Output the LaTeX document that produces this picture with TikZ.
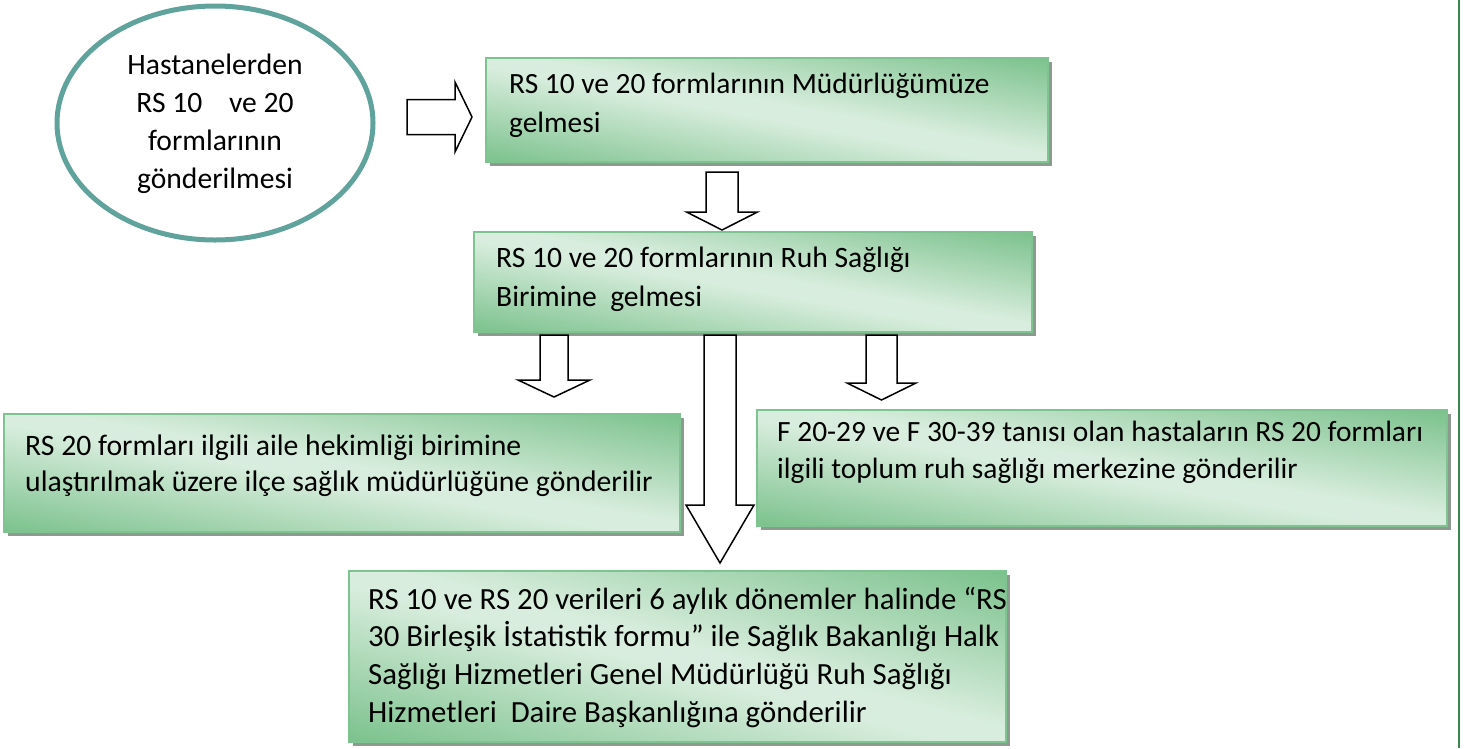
\documentclass[tikz,border=0pt]{standalone}
\usepackage{fontspec}
\setmainfont{Carlito}[WordSpace={1,0,0}]
\usetikzlibrary{shadows,shapes.geometric}
\definecolor{gdark}{RGB}{116,190,134}
\definecolor{glight}{RGB}{216,237,221}
\definecolor{gborder}{RGB}{126,196,144}
\definecolor{shadowgray}{RGB}{140,154,143}
\definecolor{ellteal}{RGB}{96,162,156}
\definecolor{linegreen}{RGB}{62,134,78}
\pgfdeclarehorizontalshading{greenrefl}{100bp}{color(0bp)=(gdark); color(12bp)=(gdark); color(47bp)=(glight); color(53bp)=(glight); color(88bp)=(gdark); color(100bp)=(gdark)}
\newcommand{\vblockarrow}[6]{% cx, ytop, yhead, ytip, shaft half, head half
  \draw[barrow] (#1-#5,#2) -- (#1+#5,#2) -- (#1+#5,#3) -- (#1+#6,#3) -- (#1,#4)
    -- (#1-#6,#3) -- (#1-#5,#3) -- cycle;}
\newcommand{\shadebox}[3]{% node name, width, height
  \begin{scope}[transform canvas={shift={(#1.center)}, xscale=#2/#3}]
    \shade[shading=greenrefl, shading angle=45] (-#3/2,-#3/2) rectangle (#3/2,#3/2);
  \end{scope}
  \draw[boxline] (#1.north west) rectangle (#1.south east);}
\newcommand{\fs}{\rule{0pt}{24pt}}
\begin{document}
\begin{tikzpicture}[x=1pt,y=-1pt,
  box/.style 2 args={rectangle, draw=gborder, line width=1.6pt, fill=gdark,
    minimum width=#1pt, minimum height=#2pt, anchor=north west, inner sep=0pt, outer sep=0pt,
    general shadow={fill=shadowgray, shadow xshift=4pt, shadow yshift=-4pt}},
  boxline/.style={draw=gborder, line width=1.6pt},
  txt/.style={font=\fontsize{29.6}{38}\selectfont, align=left,
    inner sep=0pt, anchor=north west},
  ctxt/.style={font=\fontsize{29.6}{38}\selectfont, align=center,
    inner sep=0pt, anchor=north},
  barrow/.style={draw=black, line width=1.5pt, fill=white, line join=miter}]
\useasboundingbox (0,0) rectangle (1473,748);

% right border line
\draw[linegreen, line width=2.5pt] (1459,0) coordinate (lt) -- (1459,748) coordinate (lb);

% start ellipse
\node[ellipse, draw=ellteal, line width=5pt, fill=white, minimum width=316pt, minimum height=234pt, inner sep=0pt] (e) at (215,123) {};
\node[ctxt] (et) at (215,50) {\fs Hastanelerden\\RS 10\ \ \ \ ve 20\\formlarının\\gönderilmesi};

% boxes
\node[box={562}{104}] (b1) at (486,58) {};
\shadebox{b1}{562}{104}
\node[txt, font=\fontsize{29.4}{39}\selectfont] (t1) at (509,69) {\fs RS 10 ve 20 formlarının Müdürlüğümüze\\gelmesi};

\node[box={558}{100}] (b2) at (474,232) {};
\shadebox{b2}{558}{100}
\node[txt, font=\fontsize{29.6}{39}\selectfont] (t2) at (496,243) {\fs RS 10 ve 20 formlarının Ruh Sağlığı\\Birimine\ \ gelmesi};

\node[box={676}{118}] (b3) at (4,414) {};
\shadebox{b3}{676}{118}
\node[txt, font=\fontsize{29.7}{36}\selectfont] (t3) at (25,431) {\fs RS 20 formları ilgili aile hekimliği birimine\\ulaştırılmak üzere ilçe sağlık müdürlüğüne gönderilir};

\node[box={690}{116}] (b4) at (757,410) {};
\shadebox{b4}{690}{116}
\node[txt, font=\fontsize{29.4}{37}\selectfont] (t4) at (777,417) {\fs F 20-29 ve F 30-39 tanısı olan hastaların RS 20 formları\\ilgili toplum ruh sağlığı merkezine gönderilir};

\node[box={657}{171}] (b5) at (349,571) {};
\shadebox{b5}{657}{171}
\node[txt, font=\fontsize{30.8}{37.7}\selectfont] (t5) at (368,585) {\fs RS 10 ve RS 20 verileri 6 aylık dönemler halinde “RS\\30 Birleşik İstatistik formu” ile Sağlık Bakanlığı Halk\\Sağlığı Hizmetleri Genel Müdürlüğü Ruh Sağlığı\\Hizmetleri\ \ Daire Başkanlığına gönderilir};

% block arrows
\draw[barrow] (407,99.5) -- (455,99.5) -- (455,82) -- (472,117) -- (455,152) -- (455,134.5) -- (407,134.5) -- cycle;
\vblockarrow{722}{172}{212}{230}{16}{35.5}
\vblockarrow{554}{335}{380}{397}{14}{36}
\vblockarrow{720}{335}{505}{563}{16}{34}
\vblockarrow{881.5}{335}{383}{400}{15.5}{34.5}
\end{tikzpicture}
\end{document}
